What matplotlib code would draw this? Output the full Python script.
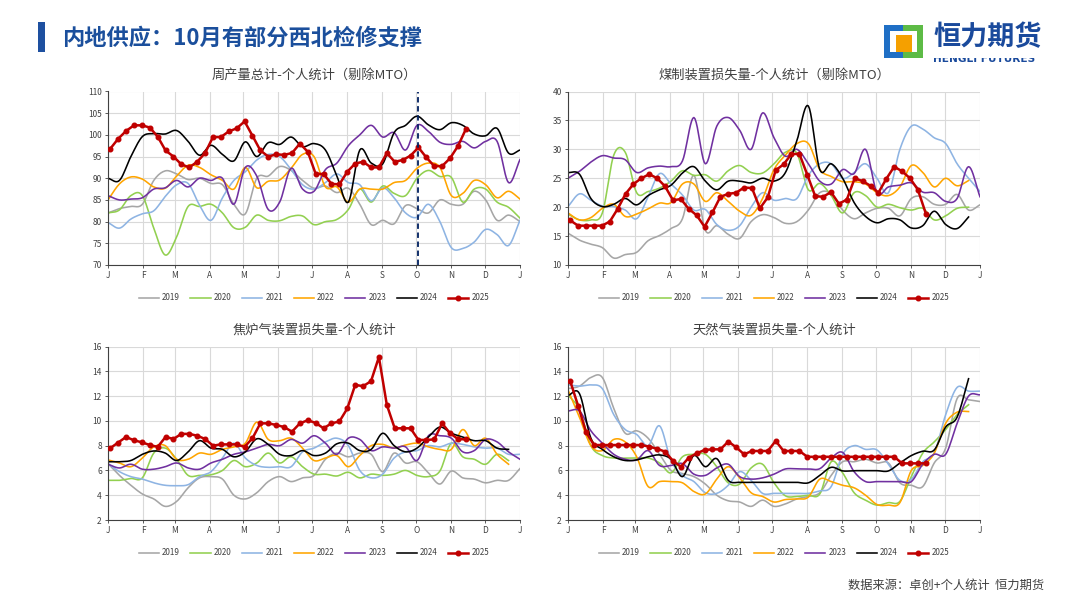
import numpy as np
import matplotlib
matplotlib.use("Agg")
from matplotlib import pyplot as plt
from matplotlib.patches import Rectangle

plt.rcParams['font.family'] = ['Noto Sans CJK SC', 'DejaVu Sans']

MONTH_DAYS = [0, 31, 59, 90, 120, 151, 181, 212, 243, 273, 304, 334, 365]
MONTH_LABELS = ['J', 'F', 'M', 'A', 'M', 'J', 'J', 'A', 'S', 'O', 'N', 'D', 'J']
YEARS = ['2019', '2020', '2021', '2022', '2023', '2024']
COLORS = ['#A6A6A6', '#92D050', '#8EB4E3', '#FFA500', '#7030A0', '#000000']
GRID_DAYS = np.linspace(0, 365, 37)
DAYS_2025 = 2 + 7 * np.arange(46)
NA = np.nan

# ---- 周产量总计 ----
prod_2019 = [82, 83, 83.5, 84, 89.5, 91.7, 91, 89.7, 90, 88.8, 88.5, 84, 81.8, 90, 90.5, 92.7, 91.8, 89.5,
             87.7, 88.2, 86.7, 87.7, 84, 79.3, 80.3, 79.5, 83.7, 83, 82, 85, 84, 84, 87, 85, 80.3, 81.5, 80]
prod_2020 = [82, 82.7, 86, 86, 78.5, 72.3, 76.5, 83.5, 83.5, 84, 82, 78.6, 78.7, 81.5, 80.3, 80.2, 81.2, 81.3,
             79.3, 80, 80.5, 82.8, 87.5, 84.5, 88.2, 86.5, 86, 90, 91.8, 90.4, 90.2, 84.5, 87.5, 87.5, 84.5, 83.3, 80.8]
prod_2021 = [79.8, 78.5, 80.6, 81.8, 82.5, 85.8, 88.5, 88.8, 83.8, 80.3, 85.5, 89.5, 91.5, 94.2, 95.5, 95, 92, 88.5,
             87.5, 89, 91, 89, 88.5, 84.8, 87.8, 85.5, 82, 81, 84, 80, 74, 73.8, 75.3, 78.2, 77, 74.5, 80.3]
prod_2022 = [85, 88.7, 90.3, 89.8, 88, 87.7, 90.5, 93, 92.5, 90.8, 89.5, 87.5, 92.5, 87.8, 89.3, 89.6, 92.3, 95.5,
             95, 88, 88, 84.5, 87.5, 87.5, 87.5, 89, 89.5, 92.3, 93.5, 92.5, 86, 86.5, 89.5, 88.5, 85.5, 87, 85.2]
prod_2023 = [86, 85, 85.2, 85.5, 87.5, 87.8, 89.5, 88, 90, 89.5, 90, 84, 92.5, 90.5, 82.8, 84.5, 92.3, 87.5,
             87, 92, 93.5, 97.5, 100, 102.2, 99.5, 100.5, 96.5, 102.2, 100.8, 98.3, 97.8, 98.5, 97, 98.5, 98.5, 89, 94.3]
prod_2024 = [90, 89.5, 95, 99.6, 100.3, 100.2, 101, 98.5, 95.3, 97.6, 95.5, 94, 98.4, 95, 98.2, 97.8, 99.5, 97.3,
             98, 96.5, 90.5, 84.5, 96.5, 93.5, 93.3, 100.5, 102.2, 104.3, 102.3, 101.2, 102.8, 102.2, 100.2, 99.8,
             101.5, 95.8, 96.5]
prod_2025 = [96.8, 99.1, 100.9, 102.2, 102.2, 101.7, 99.6, 96.4, 95, 93.2, 92.5, 93.8, 95.8, 99.5, 99.5, 100.8,
             101.5, 103.1, 99.8, 96.4, 95, 95.5, 95.4, 95.8, 98, 96.1, 91, 91, 88.7, 88.6, 91.5, 93.4, 93.8, 92.5,
             92.5, 95.8, 93.8, 94.2, 95.2, 97.1, 94.8, 92.8, 92.8, 94.6, 97.4, 101.3]

# ---- 煤制装置损失量 ----
coal_2019 = [15.5, 14.3, 13.6, 13, 11.2, 11.8, 12.2, 14.2, 15.1, 16.3, 18, 25.5, 16, 16.8, 15.3, 14.6, 17.5, 18.7,
             18.2, 17.2, 17.5, 19.5, 22.5, 22.3, 19.5, 18, 19, 19.8, 19.8, 18.5, 21.5, 21.8, 20.5, 20.5, 22.2, 19.5, 20.4]
coal_2020 = [18.8, 17.8, 17.8, 19, 29, 29.5, 22.5, 22.7, 23.3, 24.5, 26.3, 25.5, 25.6, 24.5, 26.3, 27.2, 26, 25.9,
             27.5, 29.5, 29.3, 23, 24.1, 22, 19, 22.5, 22, 20, 20.5, 19.9, 19.5, 19.8, 17.8, 18.5, 19.8, 20, NA]
coal_2021 = [20.1, 22.3, 21.2, 20.2, 20.1, 19.5, 18, 21.8, 25.8, 24, 22.1, 19.5, 19.6, 17, 16, 16.8, 20, 22.5,
             21.2, 21.5, 21.5, 25.5, 27.5, 27.5, 25, 26, 27.5, 25, 22.5, 30, 34, 33.5, 32, 31, 27.5, 25, 22.7]
coal_2022 = [19, 17.8, 18.2, 19.8, 20.5, 18.4, 18.8, 19.7, 20.7, 20.8, 24, 24, 21, 22.5, 21, 19.3, 18.6, 21.5,
             26.5, 29, 31, 31, 26.5, 25.3, 24.4, 24.4, 24, 22.5, 22, 23.5, 27.2, 26, 23.5, 25, 23.7, 24.6, NA]
coal_2023 = [25, 26.2, 27.8, 28.9, 28.5, 28.2, 26, 26.8, 27.1, 27, 28, 35.5, 27.5, 34, 35.5, 33.3, 30, 36.3,
             32, 28.8, 30, 27.5, 24.5, 24, 26.5, 25.8, 30, 22.5, 23.5, 23.8, 24.2, 22.6, 22.5, 21, 21.5, 27, 21.8]
coal_2024 = [26, 25.7, 21.5, 20.1, 20.5, 21.5, 20.4, 22, 23, 23.8, 25.9, 27, 24.5, 23, 24.5, 24.5, 24.2, 25,
             24.5, 26, 31.5, 37.5, 26.5, 27.5, 25, 20.8, 18.4, 17.3, 18, 17.8, 16.4, 16.8, 19.3, 17, 16.3, 18.3, NA]
coal_2025 = [17.7, 16.8, 16.8, 16.8, 16.8, 17.5, 19.7, 22.3, 24, 25, 25.7, 25, 23.6, 21.2, 21.4, 19.7, 18.6, 16.6,
             19.1, 21.8, 22.3, 22.5, 23.4, 23.3, 19.8, 21.7, 26.4, 27.4, 29.2, 29.2, 25.6, 21.9, 21.8, 22.6, 20.6,
             21.3, 25, 24.5, 23.7, 22.5, 24.9, 27, 26.2, 25, 23, 18.9]

# ---- 焦炉气装置损失量 ----
coke_2019 = [6.55, 5.6, 4.8, 4.1, 3.7, 3.1, 3.5, 4.6, 5.4, 5.5, 5.3, 4, 3.7, 4.2, 5.1, 5.5, 5.1, 5.4, 5.6, 6.9,
             7.4, 7.1, 7.4, 7.3, 5.9, 7.4, 6.6, 6.7, 5.8, 4.9, 5.95, 5.4, 5.3, 5, 5.2, 5.2, 6.15]
coke_2020 = [5.2, 5.2, 5.35, 5.4, 7.4, 7.8, 6.9, 5.6, 5.6, 5.65, 6, 6.8, 6.3, 6.6, 7.4, 6.6, 7.1, 6.3, 5.7, 5.7,
             5.55, 5.85, 5.4, 5.7, 5.6, 5.7, 6, 5.6, 5.5, 5.95, 8.2, 7.1, 6.9, 6.5, 7.3, 6.8, NA]
coke_2021 = [6.55, 5.9, 5.5, 5.3, 5, 4.8, 4.77, 4.85, 5.5, 5.9, 7, 8.2, 7, 6.4, 6.25, 6.3, 6.3, 7.5, 7.8, 8.3,
             8.6, 8, 6, 5.4, 5.7, 7, 7.5, 7.6, 8, 7.9, 8.2, 8.1, 7.9, 7.8, 7.8, 7.3, 7.3]
coke_2022 = [6.85, 6.6, 6.3, 7, 7.9, 8, 6.9, 6.9, 7.4, 7.3, 7.7, 7.9, 8.2, 9.9, 8.5, 8.4, 8.6, 7.8, 6.8, 7, 7.2,
             6.3, 7.2, 8, 8.1, 7.8, 8.05, 8.2, 7.9, 7.7, 7.7, 9.3, 8, 8.6, 7.3, 6.5, NA]
coke_2023 = [6.5, 6.2, 6.5, 6.1, 6.1, 6.3, 6.6, 6.2, 6.1, 6.6, 6.9, 7.3, 7.5, 7.8, 8.1, 8, 8.5, 8.2, 8.8, 8.2,
             7.3, 8.6, 8.5, 7.6, 7.9, 7.8, 7.9, 6.8, 8.8, 8.8, 8.6, 7.5, 7.6, 8.5, 8.3, 7.5, 6.9]
coke_2024 = [6.7, 6.7, 6.8, 7.3, 7.57, 7.4, 6.8, 7.5, 8.4, 7.8, 7.7, 7.1, 7.5, 8.55, 8.1, 7.3, 7.2, 7.6, 7.2,
             7.4, 8.15, 8.2, 7.6, 7.7, 9, 8, 7.5, 7.8, 8.7, 9.5, 9, 8.7, 8.4, 8.4, 7.8, 7.7, NA]
coke_2025 = [7.8, 8.25, 8.7, 8.43, 8.27, 8.05, 7.9, 8.7, 8.54, 8.95, 8.95, 8.8, 8.54, 8, 8.1, 8.1, 8.1, 7.9, 8.6,
             9.8, 9.8, 9.67, 9.5, 9.13, 9.8, 10.05, 9.83, 9.4, 9.8, 9.95, 11, 12.9, 12.8, 13.2, 15.15, 11.3, 9.4,
             9.4, 9.4, 8.46, 8.46, 8.5, 9.8, 9, 8.54, 8.5]

# ---- 天然气装置损失量 ----
gas_2019 = [12.6, 12.8, 13.5, 13.5, 11, 9, 9.2, 8.6, 7.3, 6, 5.75, 5.5, 4.9, 4, 3.55, 3.45, 3.1, 3.6, 3.1, 3.3,
            3.7, 3.9, 4.2, 5.6, 6.7, 6.7, 6.9, 6.6, 6.6, 5, 4.8, 4.7, 6.6, 7.8, 11.8, 11.7, 11.56]
gas_2020 = [12.1, 10.9, 8, 7.2, 7, 7, 7, 7, 6.6, 5.8, 7.1, 7.3, 7.3, 6.3, 5, 4.9, 6.2, 6.5, 5, 3.95, 3.9, 4,
            4.1, 6.7, 5.8, 4.2, 3.6, 3.2, 3.4, 3.5, 5.5, 7.4, 8.3, 9.3, 10.5, 11.3, NA]
gas_2021 = [12.9, 12.8, 12.9, 12.6, 10.5, 9.3, 8.9, 8, 9.6, 6.8, 5.6, 5.1, 4.2, 4.15, 4.8, 5.9, 5.2, 4.15, 4.15,
            4.15, 4.15, 4.15, 4.35, 4.7, 7.3, 8, 7.7, 7.65, 6.5, 5.2, 5.3, 6.7, 7.4, 10.5, 12.7, 12.4, 12.4]
gas_2022 = [12.5, 10.3, 8, 7.6, 8.5, 8.3, 7.1, 4.7, 5.1, 5.1, 5, 4.3, 4.1, 5.3, 6.3, 5.4, 4.2, 3.9, 3.45, 3.65,
            3.7, 3.85, 5.3, 5.1, 4.8, 4.6, 4, 3.25, 3.2, 3.4, 6, 6.4, 7.4, 9.8, 10.7, 10.75, NA]
gas_2023 = [10.8, 10.8, 9.2, 8.2, 7.3, 6.9, 6.85, 7.6, 6.4, 6.4, 6.55, 5.7, 5.6, 6.2, 6.5, 5.5, 5.3, 5.4, 5.7,
            6.12, 6.12, 6.12, 6.14, 7, 7.45, 5.9, 5.1, 5.1, 5.1, 5.1, 5.1, 6.5, 7.3, 7.3, 9.8, 12, 12.1]
gas_2024 = [12.05, 12.2, 8.6, 7.7, 7.1, 6.8, 6.85, 7.1, 7.25, 6.9, 5.5, 7.2, 6.3, 6.95, 5.2, 5.04, 5.04, 5.04,
            5.04, 5.04, 5.04, 5, 5.6, 6.25, 5.96, 5.98, 5.98, 5.98, 5.96, 6.6, 7.2, 7.55, 7.65, 9.5, 10.3, 13.4, NA]
gas_2025 = [13.2, 11.2, 9.1, 8.05, 8.05, 8.05, 8.05, 8.05, 8.05, 8.05, 7.92, 7.74, 7.52, 6.77, 6.3, 7.03, 7.38,
            7.65, 7.7, 7.7, 8.33, 7.87, 7.3, 7.57, 7.57, 7.57, 8.38, 7.57, 7.57, 7.57, 7.1, 7.1, 7.1, 7.1, 7.1,
            7.1, 7.1, 7.1, 7.1, 7.1, 7.1, 7.1, 6.57, 6.57, 6.57, 6.57]

MARK_DAY = DAYS_2025[39]

FIG_W, FIG_H = 1080, 608


def px(x, y):
    return x / FIG_W, 1 - y / FIG_H


def smooth(x, y, n=10):
    # excel-like smoothed line through the points (catmull-rom)
    x = np.asarray(x, float)
    y = np.asarray(y, float)
    ok = ~np.isnan(y)
    x, y = x[ok], y[ok]
    px_ = np.concatenate([[2 * x[0] - x[1]], x, [2 * x[-1] - x[-2]]])
    py_ = np.concatenate([[2 * y[0] - y[1]], y, [2 * y[-1] - y[-2]]])
    t = np.linspace(0, 1, n, endpoint=False)
    xs, ys = [], []
    for i in range(1, len(px_) - 2):
        for p, out in ((px_, xs), (py_, ys)):
            p0, p1, p2, p3 = p[i - 1], p[i], p[i + 1], p[i + 2]
            out.extend(0.5 * (2 * p1 + (-p0 + p2) * t + (2 * p0 - 5 * p1 + 4 * p2 - p3) * t ** 2
                              + (-p0 + 3 * p1 - 3 * p2 + p3) * t ** 3))
    xs.append(x[-1])
    ys.append(y[-1])
    return xs, ys


def draw_chart(rect, title, series, s2025, ylim, ystep, vline=False):
    ax = fig.add_axes(rect)
    for year, vals, c in zip(YEARS, series, COLORS):
        sx, sy = smooth(GRID_DAYS, vals)
        ax.plot(sx, sy, color=c, lw=1.15, label=year, zorder=2)
    ax.plot(DAYS_2025, s2025, color='#C00000', lw=1.8, marker='o', ms=3.3, label='2025', zorder=3)
    if vline:
        ax.axvline(MARK_DAY, color='#002060', lw=1.3, ls=(0, (3, 2)), zorder=4)
    ax.set_xlim(0, 365)
    ax.set_ylim(*ylim)
    ax.set_xticks(MONTH_DAYS)
    ax.set_xticklabels(MONTH_LABELS)
    ax.set_yticks(np.arange(ylim[0], ylim[1] + 0.01, ystep))
    ax.grid(True, color='#D9D9D9', lw=0.8, zorder=0)
    ax.set_axisbelow(True)
    for s in ['top', 'right']:
        ax.spines[s].set_visible(False)
    for s in ['left', 'bottom']:
        ax.spines[s].set_color('#404040')
        ax.spines[s].set_linewidth(0.8)
    ax.tick_params(labelsize=6, colors='#404040', length=2.5, width=0.6, pad=2)
    ax.set_title(title, fontsize=9.5, color='#404040', pad=9)
    ax.legend(loc='center', bbox_to_anchor=(0.5, -0.19), ncol=7, frameon=False, fontsize=5.8,
              handlelength=2.5, columnspacing=1.3, handletextpad=0.4, labelcolor='#404040')
    return ax


fig = plt.figure(figsize=(10.8, 6.08), dpi=100)
fig.patch.set_facecolor('white')

W = 412 / FIG_W
H = 173.5 / FIG_H
draw_chart([108 / FIG_W, 1 - 265 / FIG_H, W, H], '周产量总计-个人统计（剔除MTO）',
           [prod_2019, prod_2020, prod_2021, prod_2022, prod_2023, prod_2024], prod_2025, (70, 110), 5, vline=True)
draw_chart([568 / FIG_W, 1 - 265 / FIG_H, W, H], '煤制装置损失量-个人统计（剔除MTO）',
           [coal_2019, coal_2020, coal_2021, coal_2022, coal_2023, coal_2024], coal_2025, (10, 40), 5)
draw_chart([108 / FIG_W, 1 - 520 / FIG_H, W, H], '焦炉气装置损失量-个人统计',
           [coke_2019, coke_2020, coke_2021, coke_2022, coke_2023, coke_2024], coke_2025, (2, 16), 2)
draw_chart([568 / FIG_W, 1 - 520 / FIG_H, W, H], '天然气装置损失量-个人统计',
           [gas_2019, gas_2020, gas_2021, gas_2022, gas_2023, gas_2024], gas_2025, (2, 16), 2)

# header
x0, y0 = px(38, 52)
fig.add_artist(Rectangle((x0, y0), 7 / FIG_W, 30 / FIG_H, transform=fig.transFigure,
                         color='#1E50A0', lw=0))
fig.text(*px(62, 38), '内地供应：10月有部分西北检修支撑', fontsize=16, color='#1B4F9C',
         va='center', ha='left', weight='bold')


# logo
def frect(x, y, w, h, c, z=5):
    fig.add_artist(Rectangle(px(x, y + h), w / FIG_W, h / FIG_H, transform=fig.transFigure,
                             color=c, lw=0, zorder=z))


frect(884, 25, 19, 33, '#1F6FC5')
frect(903, 25, 20, 33, '#5DBB46')
frect(890, 31, 27, 21, 'white', 6)
frect(896, 35, 16, 17, '#F5A000', 7)
fig.text(*px(933, 37), '恒力期货', fontsize=19.5, color='#1A4A9C', va='center', ha='left',
         weight='bold', zorder=8)
fig.text(*px(933, 59), 'HENGLI FUTURES', fontsize=7.6, color='#1A4A9C', va='center', ha='left',
         weight='bold', family=['DejaVu Sans'], zorder=8)
frect(930, 50, 120, 7.5, 'white', 9)

# footer
fig.text(*px(1044, 585), '数据来源：卓创+个人统计  恒力期货', fontsize=8.8, color='#404040',
         va='center', ha='right')

fig.savefig('out.png', dpi=100, facecolor='white')
